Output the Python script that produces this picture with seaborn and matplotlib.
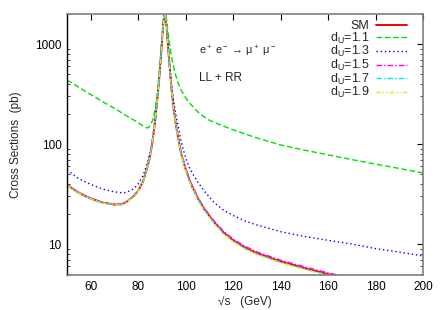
import matplotlib
matplotlib.use("Agg")
import matplotlib.pyplot as plt
import seaborn as sns
import pandas as pd
from matplotlib.ticker import LogLocator, NullFormatter, FixedLocator

# ---- data ----
x_sm = [50, 55, 60, 65, 70, 73, 75, 78, 80, 82, 84, 85, 86, 87, 88, 89, 90, 90.5, 91, 91.2,
        91.5, 92, 92.5, 93, 94, 95, 96, 97, 98, 100, 102, 105, 108, 112, 116, 120, 125, 130,
        140, 150, 160, 165]
sm = [39, 32.5, 28.5, 26, 24.8, 25, 26.3, 30, 34, 42, 60, 76, 105, 160, 270, 500, 1050, 1550,
      1950, 2100, 1930, 1450, 1000, 700, 360, 220, 150, 110, 82, 56, 41, 29, 22, 16.5, 13,
      10.9, 9.2, 8.1, 6.7, 5.75, 5.0, 4.7]
d15 = [39.3, 32.7, 28.6, 26.1, 24.9, 25.1, 26.4, 30.1, 34.1, 42.1, 60, 76, 105, 160, 270, 500,
       1050, 1550, 1950, 2100, 1930, 1450, 1000, 702, 362, 222, 152, 112, 83.5, 57.2, 42,
       29.8, 22.6, 17, 13.4, 11.2, 9.5, 8.35, 6.9, 5.93, 5.15, 4.85]
d17 = [38.8, 32.3, 28.4, 25.9, 24.7, 24.9, 26.2, 29.9, 33.9, 41.9, 60, 76, 105, 160, 270, 500,
       1050, 1550, 1950, 2100, 1930, 1450, 1000, 698, 358, 218, 148, 108.5, 80.8, 55, 40.3,
       28.4, 21.6, 16.2, 12.75, 10.7, 9.0, 7.95, 6.57, 5.64, 4.9, 4.6]
d19 = [38.7, 32.2, 28.3, 25.8, 24.6, 24.8, 26.1, 29.8, 33.8, 41.8, 60, 76, 105, 160, 270, 500,
       1050, 1550, 1950, 2100, 1930, 1450, 1000, 697, 357, 217, 147, 107.5, 80, 54.4, 39.8,
       28.1, 21.3, 16.0, 12.6, 10.57, 8.92, 7.86, 6.5, 5.58, 4.85, 4.56]

x_13 = [50, 55, 60, 65, 70, 73, 75, 78, 80, 82, 84, 85, 86, 87, 88, 89, 90, 90.5, 91, 91.2,
        91.5, 92, 92.5, 93, 94, 95, 96, 97, 98, 100, 102, 105, 108, 112, 116, 120, 125, 130,
        140, 150, 160, 170, 180, 190, 200]
d13 = [55, 45, 39.5, 35.5, 33.2, 32.6, 32.8, 35.5, 40, 48, 66, 82, 110, 165, 275, 505, 1060,
       1560, 1960, 2100, 1950, 1500, 1060, 760, 410, 265, 190, 145, 108, 72, 55, 42, 33.5, 26,
       21.8, 19.3, 17, 15.5, 13.3, 11.9, 10.9, 10.0, 9.0, 8.3, 7.6]

x_11 = [50, 55, 60, 65, 70, 75, 78, 80, 82, 83, 84, 84.5, 85, 86, 87, 88, 89, 90, 90.5, 91,
        91.5, 92, 92.5, 93, 93.5, 94, 95, 96, 97, 98, 100, 102, 104, 106, 110, 115, 120, 130,
        140, 150, 160, 170, 180, 190, 200]
d11 = [437, 370, 313, 265, 228, 192, 175, 163, 152, 147, 145, 147, 155, 170, 215, 320, 560,
       1120, 1620, 2000, 2100, 1700, 1350, 1080, 900, 760, 580, 470, 400, 350, 290, 252, 224,
       200, 173, 154, 139, 115, 98, 87, 78, 70, 63, 57, 51.5]

labels = ["SM", r"d$_{\rm U}$=1.1", r"d$_{\rm U}$=1.3", r"d$_{\rm U}$=1.5",
          r"d$_{\rm U}$=1.7", r"d$_{\rm U}$=1.9"]
xticks = [60, 80, 100, 120, 140, 160, 180, 200]

series = [(labels[0], x_sm, sm), (labels[1], x_11, d11), (labels[2], x_13, d13),
          (labels[3], x_sm, d15), (labels[4], x_sm, d17), (labels[5], x_sm, d19)]
frames = [pd.DataFrame({"x": xs, "y": ys, "curve": lab}) for lab, xs, ys in series]
df = pd.concat(frames, ignore_index=True)

# ---- style ----
sns.set_theme(style="white")
plt.rcParams["font.family"] = ["Liberation Sans", "DejaVu Sans"]
plt.rcParams["mathtext.fontset"] = "custom"
plt.rcParams["mathtext.rm"] = "Liberation Sans"
plt.rcParams["mathtext.it"] = "Liberation Sans"
plt.rcParams["mathtext.sf"] = "Liberation Sans"

palette = {labels[0]: "#ff0000", labels[1]: "#00e000", labels[2]: "#0000ff",
           labels[3]: "#ff00ff", labels[4]: "#00e8e8", labels[5]: "#e8e800"}
dashes = {labels[0]: "", labels[1]: (4, 2), labels[2]: (1, 2),
          labels[3]: (4, 1.5, 1, 1.5), labels[4]: (4, 1.5, 1, 1.5),
          labels[5]: (3, 1.5, 1, 1.5, 1, 1.5)}
sizes = {labels[0]: 1.4, labels[1]: 1.0, labels[2]: 1.0, labels[3]: 1.0,
         labels[4]: 1.0, labels[5]: 1.0}

fig = plt.figure(figsize=(4.43, 3.10), dpi=100)
ax = fig.add_axes([67 / 443, 1 - 275 / 310, (423 - 67) / 443, (275 - 14) / 310])

sns.lineplot(data=df, x="x", y="y", hue="curve", style="curve", size="curve",
             palette=palette, dashes=dashes, sizes=sizes, hue_order=labels,
             style_order=labels, size_order=labels, estimator=None, sort=False, ax=ax)

ax.set_yscale("log")
ax.set_xlim(50, 200)
ax.set_ylim(4.9, 2000)
ax.xaxis.set_major_locator(FixedLocator(xticks))
ax.set_xticklabels([str(t) for t in xticks])
ax.yaxis.set_major_locator(FixedLocator([10, 100, 1000]))
ax.set_yticklabels(["10", "100", "1000"])
ax.yaxis.set_minor_locator(LogLocator(base=10, subs=range(2, 10)))
ax.yaxis.set_minor_formatter(NullFormatter())

ax.tick_params(axis="both", which="major", direction="in", length=4, width=0.8,
               labelsize=8.5, top=True, right=True, colors="black", pad=4)
ax.tick_params(axis="y", which="minor", direction="in", length=2, width=0.6,
               left=True, right=True)

for side in ["top", "right", "bottom"]:
    ax.spines[side].set_color("#808080")
    ax.spines[side].set_linewidth(1.2)
ax.spines["left"].set_color("black")
ax.spines["left"].set_linewidth(1.0)

ax.set_xlabel("√s   (GeV)", fontsize=8.5, labelpad=2)
ax.set_ylabel("Cross Sections  (pb)", fontsize=8.5, labelpad=9)

ax.text(0.37, 0.855, r"e$^+$ e$^-$ → μ$^+$ μ$^-$", transform=ax.transAxes,
        fontsize=7.8, va="center", ha="left")
ax.text(0.37, 0.755, "LL + RR", transform=ax.transAxes, fontsize=8.5,
        va="center", ha="left")

leg = ax.legend(loc="upper right", frameon=False, fontsize=9, markerfirst=False,
                handlelength=2.5, handletextpad=0.5, labelspacing=-0.12,
                borderaxespad=0.2, bbox_to_anchor=(0.976, 1.005))
for t in leg.get_texts():
    t.set_ha("right")

fig.savefig("out.png", dpi=100)
